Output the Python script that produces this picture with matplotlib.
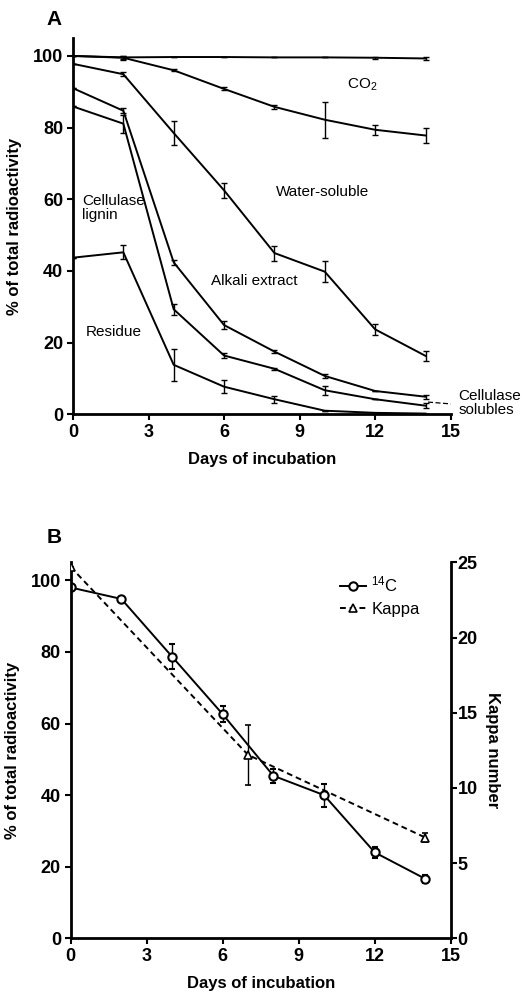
import matplotlib
matplotlib.use("Agg")
from matplotlib import pyplot as plt
from matplotlib.lines import Line2D

plt.rcParams["font.family"] = ["Liberation Sans", "DejaVu Sans"]
plt.rcParams["mathtext.fontset"] = "custom"
plt.rcParams["mathtext.rm"] = "Liberation Sans"
plt.rcParams["mathtext.default"] = "regular"

# Panel A: cumulative fractions (% of total radioactivity)
days = [0, 2, 4, 6, 8, 10, 12, 14]
total = [100, 99.6, 99.7, 99.7, 99.6, 99.6, 99.5, 99.3]
total_err = [0, 0.4, 0, 0, 0, 0, 0.3, 0.5]
co2 = [100, 99.5, 96.0, 90.8, 85.8, 82.2, 79.4, 77.8]
co2_err = [0, 0.5, 0.3, 0.4, 0.5, 5.0, 1.4, 2.2]
water = [97.8, 94.9, 78.5, 62.5, 45.0, 39.8, 23.7, 16.3]
water_err = [0, 0.5, 3.3, 2.1, 2.1, 3.0, 1.6, 1.4]
alkali = [91.0, 84.7, 42.4, 24.9, 17.5, 10.7, 6.5, 4.9]
alkali_err = [0, 0.7, 0.7, 1.0, 0.5, 0.6, 0, 0.6]
cell_sol = [85.9, 81.1, 29.3, 16.4, 12.7, 6.7, 4.2, 2.4]
cell_sol_err = [0, 2.5, 1.6, 0.8, 0.3, 1.2, 0, 0.7]
residue = [43.7, 45.2, 13.8, 7.7, 4.2, 1.0, 0.4, 0.2]
residue_err = [0, 2.0, 4.5, 1.8, 1.0, 0, 0, 0]

# Panel B
c14 = [98.0, 94.8, 78.7, 62.6, 45.4, 40.0, 24.0, 16.6]
c14_err = [0, 0.5, 3.4, 2.2, 2.0, 3.2, 1.5, 1.2]
kappa_days = [0, 7, 14]
kappa = [24.7, 12.2, 6.7]
kappa_err = [0, 2.0, 0.3]

xticks = [0, 3, 6, 9, 12, 15]
yticks = [0, 20, 40, 60, 80, 100]
kticks = [0, 5, 10, 15, 20, 25]

fig = plt.figure(figsize=(5.22, 9.93), dpi=100)
axA = fig.add_axes([0.1398, 0.5828, 0.7236, 0.3789])
axB = fig.add_axes([0.1354, 0.0551, 0.7280, 0.3785])


def style(ax):
    ax.set_xlim(0, 15)
    ax.set_ylim(0, 105)
    ax.set_xticks(xticks)
    ax.set_yticks(yticks)
    for s in ["top", "right"]:
        ax.spines[s].set_visible(False)
    ax.spines["left"].set_bounds(0, 105)
    for s in ["left", "bottom"]:
        ax.spines[s].set_linewidth(2)
    ax.tick_params(width=1.5, length=4, labelsize=13, pad=3)
    for lab in ax.get_xticklabels() + ax.get_yticklabels():
        lab.set_fontweight("bold")
    ax.set_xlabel("Days of incubation", fontsize=12, fontweight="bold", labelpad=8)
    ax.set_ylabel("% of total radioactivity", fontsize=12, fontweight="bold", labelpad=8)


eb = dict(color="black", lw=1.4, elinewidth=1.0, capsize=2.5, capthick=1.0)
for vals, errs in [(total, total_err), (co2, co2_err), (water, water_err),
                   (alkali, alkali_err), (cell_sol, cell_sol_err), (residue, residue_err)]:
    axA.errorbar(days, vals, yerr=errs, **eb)
style(axA)

txt = dict(fontsize=11, color="black")
axA.text(11.5, 92, "CO$_2$", ha="center", va="center", **txt)
axA.text(9.9, 61.9, "Water-soluble", ha="center", va="center", **txt)
axA.text(0.35, 57.7, "Cellulase\nlignin", ha="left", va="center", linespacing=1.0, **txt)
axA.text(7.2, 37.2, "Alkali extract", ha="center", va="center", **txt)
axA.text(1.6, 23.1, "Residue", ha="center", va="center", **txt)
axA.text(15.3, 3.2, "Cellulase\nsolubles", ha="left", va="center", linespacing=1.0,
         clip_on=False, **txt)
axA.plot([14.1, 15.0], [3.4, 2.9], color="black", lw=0.9, ls=(0, (4, 2)), clip_on=False)
axA.text(-1.05, 110.2, "A", fontsize=15, fontweight="bold", ha="left", va="center")

# Panel B
axB.errorbar(days, c14, yerr=c14_err, marker="o", ms=6, mfc="white", mec="black",
             mew=1.5, **eb)
style(axB)
axK = axB.twinx()
axK.errorbar(kappa_days, kappa, yerr=kappa_err, marker="^", ms=5.5, mfc="white",
             mec="black", mew=1.2, ls=(0, (3, 2)), **eb)
axK.set_ylim(0, 105 / 4.2)
axK.set_yticks(kticks)
for s in ["top", "left", "bottom"]:
    axK.spines[s].set_visible(False)
axK.spines["right"].set_linewidth(2)
axK.spines["right"].set_bounds(0, 25)
axK.tick_params(width=1.5, length=4, labelsize=13, pad=1)
for lab in axK.get_yticklabels():
    lab.set_fontweight("bold")
axK.set_ylabel("Kappa number", fontsize=12, fontweight="bold", rotation=270, labelpad=16)
axB.text(-0.95, 112, "B", fontsize=15, fontweight="bold", ha="left", va="center")

handles = [
    Line2D([], [], color="black", lw=1.4, marker="o", ms=6, mfc="white", mew=1.5),
    Line2D([], [], color="black", lw=1.4, ls=(0, (3, 2)), marker="^", ms=5.5,
           mfc="white", mew=1.2),
]
axK.legend(handles, ["$^{14}$C", "Kappa"], loc="upper left", bbox_to_anchor=(0.69, 0.985),
           frameon=False, fontsize=12, handlelength=1.6, handletextpad=0.3,
           labelspacing=0.45, borderaxespad=0)

fig.savefig("out.png", dpi=100)
